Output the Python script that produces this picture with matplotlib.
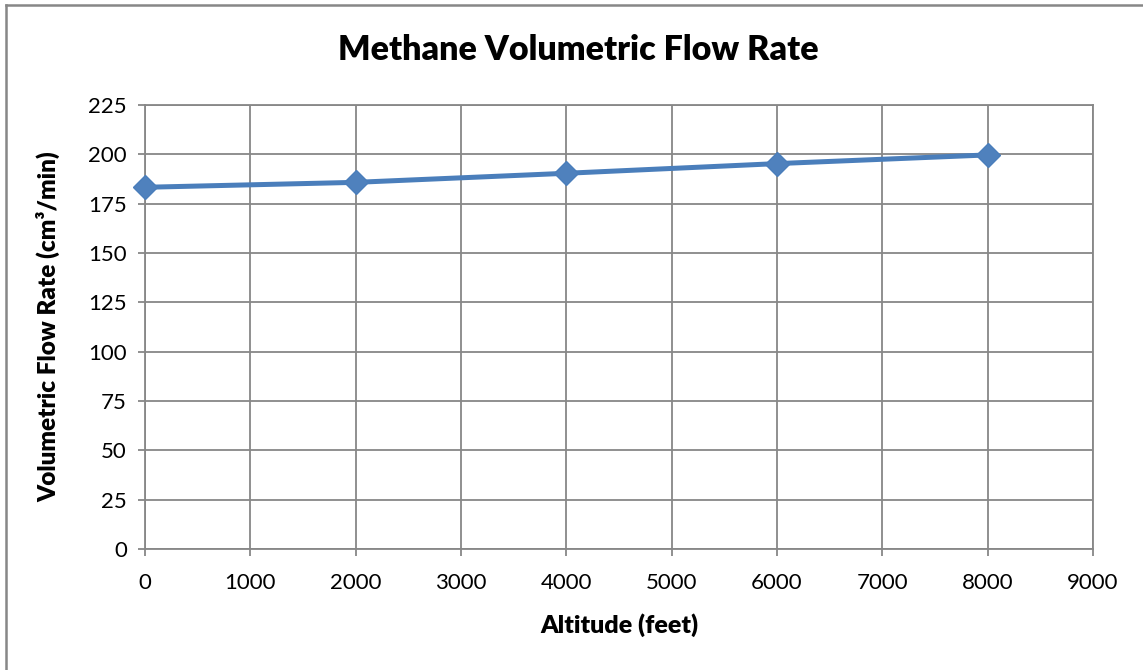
import matplotlib
matplotlib.use("Agg")
import matplotlib.pyplot as plt
from matplotlib.lines import Line2D

# Data
altitude_ft = [0, 2000, 4000, 6000, 8000]
flow_rate = [183.3, 185.8, 190.4, 195.3, 199.7]

x_ticks = list(range(0, 9001, 1000))
y_ticks = list(range(0, 226, 25))

plt.rcParams["font.family"] = ["Lato", "DejaVu Sans"]

fig = plt.figure(figsize=(11.43, 6.70), dpi=100)
ax = fig.add_axes([145 / 1143, 1 - 549 / 670, (1093 - 145) / 1143, (549 - 105) / 670])

grid_col = "#878787"
ax.plot(altitude_ft, flow_rate, color="#4A7EBB", linewidth=3.6,
        marker="D", markersize=12, markeredgecolor="#4A7EBB",
        markerfacecolor="#4F81BD", zorder=3, clip_on=False)

ax.set_xlim(0, 9000)
ax.set_ylim(0, 225)
ax.set_xticks(x_ticks)
ax.set_yticks(y_ticks)
ax.grid(True, color=grid_col, linewidth=1.3)
ax.set_axisbelow(True)
for s in ax.spines.values():
    s.set_color(grid_col)
    s.set_linewidth(1.3)
ax.tick_params(axis="both", colors=grid_col, labelcolor="black",
               labelsize=16, length=5, width=1.3, direction="out")
ax.tick_params(axis="x", pad=12)
ax.tick_params(axis="y", pad=8)

ax.set_xlabel("Altitude (feet)", fontsize=18, fontweight="heavy")
ax.xaxis.set_label_coords(0.5, -(625 - 549) / 444, transform=ax.transAxes)
ax.set_ylabel("Volumetric Flow Rate (cm³/min)", fontsize=17.5, fontweight="heavy")
ax.yaxis.set_label_coords(-(145 - 48) / 948, 0.5, transform=ax.transAxes)
ax.xaxis.label.set_va("center")
ax.yaxis.label.set_va("center")
fig.text(578 / 1143, 1 - 50 / 670, "Methane Volumetric Flow Rate",
         ha="center", va="center", fontsize=24.5, fontweight="heavy")

# outer chart border (left and top edges visible)
fig.add_artist(Line2D([6 / 1143, 6 / 1143], [0, 1 - 5 / 670], transform=fig.transFigure,
                      color=grid_col, linewidth=1.8))
fig.add_artist(Line2D([6 / 1143, 1], [1 - 5 / 670, 1 - 5 / 670], transform=fig.transFigure,
                      color=grid_col, linewidth=1.8))

fig.savefig("out.png", dpi=100)
